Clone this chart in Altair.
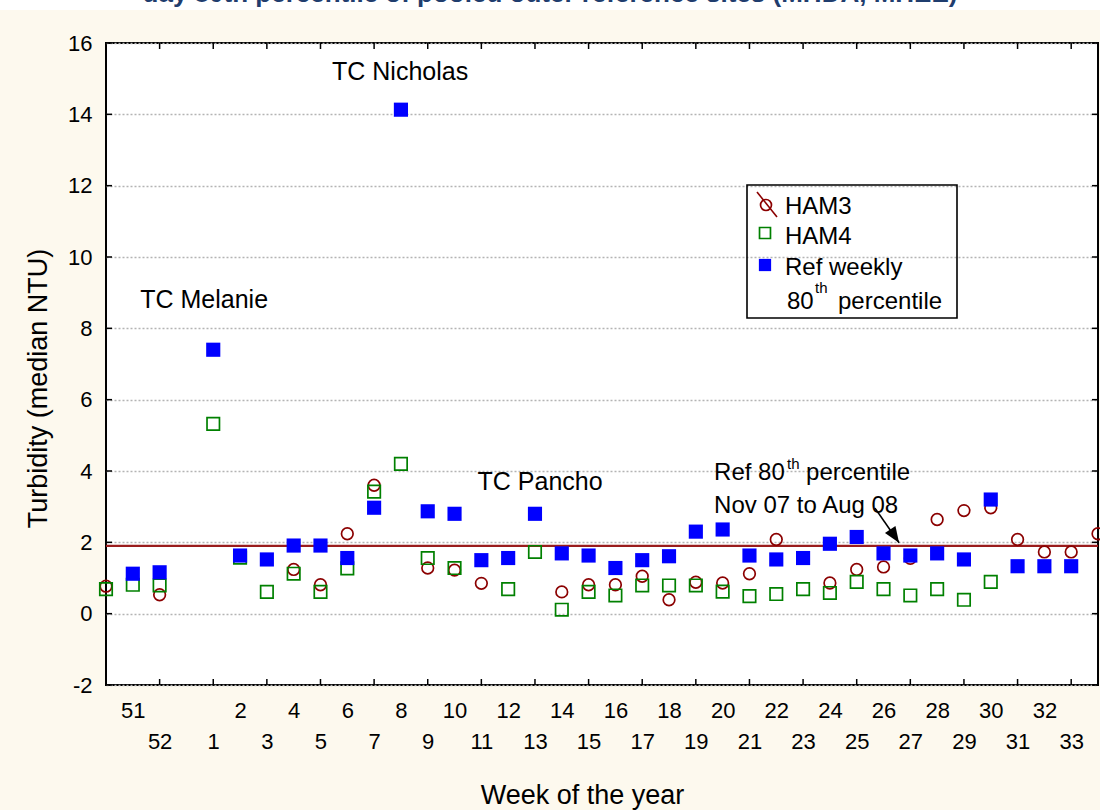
import json
import altair as alt
import pandas as pd

FONT = "Liberation Sans"
W, H = 992, 642

# Week slots along the x axis: end of 2007, an empty slot at the year change, then 2008
weeks = ["50", "51", "52", "",
         "1", "2", "3", "4", "5", "6", "7", "8", "9", "10",
         "11", "12", "13", "14", "15", "16", "17", "18", "19", "20",
         "21", "22", "23", "24", "25", "26", "27", "28", "29", "30",
         "31", "32", "33", "34"]

# Weekly median turbidity (NTU); None = no sample that week
ham3 = [0.77, None, 0.53, None,
        None, None, None, 1.24, 0.81, 2.24, 3.60, None, 1.28, 1.22,
        0.85, None, None, 0.61, 0.81, 0.81, 1.05, 0.39, 0.88, 0.86,
        1.12, 2.08, None, 0.86, 1.24, 1.31, 1.55, 2.64, 2.89, 2.97,
        2.08, 1.73, 1.73, 2.24]

ham4 = [0.69, 0.81, 0.79, None,
        5.32, 1.57, 0.61, 1.12, 0.61, 1.27, 3.42, 4.20, 1.56, 1.28,
        None, 0.69, 1.73, 0.11, 0.61, 0.51, 0.79, 0.79, 0.79, 0.62,
        0.49, 0.55, 0.69, 0.58, 0.89, 0.69, 0.51, 0.69, 0.39, 0.89,
        None, None, None, None]

ref80 = [None, 1.12, 1.16, None,
         7.40, 1.63, 1.52, 1.91, 1.91, 1.56, 2.97, 14.13, 2.87, 2.80,
         1.50, 1.56, 2.80, 1.69, 1.63, 1.28, 1.50, 1.61, 2.30, 2.36,
         1.63, 1.52, 1.56, 1.96, 2.15, 1.69, 1.63, 1.69, 1.52, 3.20,
         1.33, 1.33, 1.33, None]

# Pooled reference 80th percentile, Nov 07 to Aug 08
ref_threshold = 1.9

y_ticks = [-2, 0, 2, 4, 6, 8, 10, 12, 14, 16]

title_text = "day 80th percentile of pooled outer reference sites (MHDA, MHEE)"


def long_frame(values):
    return pd.DataFrame([{"idx": i, "value": v} for i, v in enumerate(values) if v is not None])


label_idx = [i for i, w in enumerate(weeks) if w and 0 < i < len(weeks) - 1]
tick_idx = [i for i in label_idx if i % 2 == 0]

xs = alt.Scale(domain=[0, len(weeks) - 1], nice=False, zero=False)
ys = alt.Scale(domain=[-2, 16], nice=False, zero=False)

xa = alt.Axis(
    values=label_idx,
    labelExpr=json.dumps(weeks) + "[datum.value]",
    labelPadding={"condition": {"test": "datum.value % 2 == 1", "value": 15}, "value": 46},
    labelFont=FONT, labelFontSize=22, labelColor="black",
    labelOverlap=False, labelFlush=False,
    ticks=False, domain=False, grid=False,
    title="Week of the year", titleFont=FONT, titleFontSize=27,
    titleFontWeight="normal", titleColor="black",
    titleX=476, titleY=110, titleBaseline="middle", titleAlign="center",
)
ya = alt.Axis(
    values=y_ticks,
    labelExpr="replace(datum.label, '\u2212', '-')",
    labelFont=FONT, labelFontSize=22, labelColor="black", labelPadding=14,
    ticks=False, domain=False,
    grid=True, gridDash=[2, 2], gridColor="#b4b4b4", gridWidth=1.4,
    title="Turbidity (median NTU)", titleFont=FONT, titleFontSize=27,
    titleFontWeight="normal", titleColor="black",
    titleX=-68, titleY=345, titleBaseline="middle", titleAlign="center",
)


def X(field="idx"):
    return alt.X(f"{field}:Q", scale=xs, axis=xa)


def Y(field="value"):
    return alt.Y(f"{field}:Q", scale=ys, axis=ya)


one = pd.DataFrame({"k": [0]})

# white strip above the figure panel, with the last line of the caption on it
top_strip = alt.Chart(one).mark_rect(color="white").encode(
    x=alt.value(-106), x2=alt.value(W + 2), y=alt.value(-43), y2=alt.value(-33)
)
caption = alt.Chart(one).mark_text(
    font=FONT, fontSize=26, fontWeight="bold", color="#1f3d6e",
    align="center", baseline="bottom",
).encode(x=alt.value(444), y=alt.value(-36), text=alt.value(title_text))

thr_line = alt.Chart(pd.DataFrame({"value": [ref_threshold]})).mark_rule(
    color="#9a1c1c", strokeWidth=2.2
).encode(y=Y())

pts_ham3 = alt.Chart(long_frame(ham3)).mark_point(
    shape="circle", filled=False, color="#8b0000", size=135, strokeWidth=1.7, opacity=1
).encode(x=X(), y=Y())

pts_ham4 = alt.Chart(long_frame(ham4)).mark_point(
    shape="square", filled=False, color="#008000", size=155, strokeWidth=1.7, opacity=1
).encode(x=X(), y=Y())

pts_ref = alt.Chart(long_frame(ref80)).mark_point(
    shape="square", filled=True, color="#0000ff", size=200, opacity=1
).encode(x=X(), y=Y())

# cyclone annotations
cyclones = pd.DataFrame({
    "label": ["TC Melanie", "TC Nicholas", "TC Pancho"],
    "idx": [3.66, 10.97, 16.19],
    "value": [8.79, 15.19, 3.69],
})
tc_text = alt.Chart(cyclones).mark_text(
    font=FONT, fontSize=25, align="center", baseline="middle", color="black"
).encode(x=X(), y=Y(), text="label:N")

# threshold note with arrow
note = pd.DataFrame({"idx": [22.68, 22.68], "value": [3.94, 3.01],
                     "label": ["Ref 80", "Nov 07 to Aug 08"]})
note_text = alt.Chart(note).mark_text(
    font=FONT, fontSize=24, align="left", baseline="middle", color="black"
).encode(x=X(), y=Y(), text="label:N")
note_first = pd.DataFrame({"idx": [22.68], "value": [3.94]})
note_sup = alt.Chart(note_first).mark_text(
    font=FONT, fontSize=15, align="left", baseline="middle", dx=73, dy=-9, color="black"
).encode(x=X(), y=Y(), text=alt.value("th"))
note_rest = alt.Chart(note_first).mark_text(
    font=FONT, fontSize=24, align="left", baseline="middle", dx=92, color="black"
).encode(x=X(), y=Y(), text=alt.value("percentile"))

arrow = pd.DataFrame({"idx": [28.68], "value": [2.96], "idx2": [29.58], "value2": [1.99]})
arrow_line = alt.Chart(arrow).mark_rule(color="black", strokeWidth=1.6).encode(
    x=X(), y=Y(), x2="idx2:Q", y2="value2:Q"
)
arrow_head = alt.Chart(arrow).mark_point(
    shape="M0,0 L-0.4,1 L0.4,1 Z", filled=True, color="black", size=1000, angle=146, opacity=1
).encode(x=X("idx2"), y=Y("value2"))

# inward tick marks on the frame
xt = pd.DataFrame({"idx": tick_idx})
xticks_bottom = alt.Chart(xt).mark_rule(color="black", strokeWidth=1.5).encode(
    x=X(), y=alt.value(H), y2=alt.value(H - 6)
)
xticks_top = alt.Chart(xt).mark_rule(color="black", strokeWidth=1.5).encode(
    x=X(), y=alt.value(0), y2=alt.value(6)
)
yt = pd.DataFrame({"value": y_ticks})
yticks_left = alt.Chart(yt).mark_rule(color="black", strokeWidth=1.5).encode(
    y=Y(), x=alt.value(0), x2=alt.value(6)
)
yticks_right = alt.Chart(yt).mark_rule(color="black", strokeWidth=1.5).encode(
    y=Y(), x=alt.value(W), x2=alt.value(W - 6)
)

# legend box
leg_box = alt.Chart(one).mark_rect(fillOpacity=0, stroke="black", strokeWidth=1.6).encode(
    x=alt.value(641), x2=alt.value(851), y=alt.value(142), y2=alt.value(275)
)
leg_ham3_line = alt.Chart(one).mark_rule(color="#8b0000", strokeWidth=1.6).encode(
    x=alt.value(651), y=alt.value(149), x2=alt.value(671), y2=alt.value(174)
)
leg_ham3 = alt.Chart(one).mark_point(
    shape="circle", filled=False, color="#8b0000", size=120, strokeWidth=1.7, opacity=1
).encode(x=alt.value(660), y=alt.value(162))
leg_ham4 = alt.Chart(one).mark_point(
    shape="square", filled=False, color="#008000", size=120, strokeWidth=1.7, opacity=1
).encode(x=alt.value(659), y=alt.value(190))
leg_ref = alt.Chart(one).mark_point(
    shape="square", filled=True, color="#0000ff", size=150, opacity=1
).encode(x=alt.value(659), y=alt.value(222))


def leg_text(label, px, py, size=24):
    return alt.Chart(one).mark_text(
        font=FONT, fontSize=size, align="left", baseline="middle", color="black"
    ).encode(x=alt.value(px), y=alt.value(py), text=alt.value(label))


legend = [
    leg_box, leg_ham3_line, leg_ham3, leg_ham4, leg_ref,
    leg_text("HAM3", 679, 164),
    leg_text("HAM4", 679, 194),
    leg_text("Ref weekly", 679, 225),
    leg_text("80", 681, 259),
    leg_text("th", 709, 245, 15),
    leg_text("percentile", 732, 259),
]

chart = alt.layer(
    top_strip, caption, thr_line, pts_ham3, pts_ham4, pts_ref,
    tc_text, note_text, note_sup, note_rest, arrow_line, arrow_head,
    xticks_bottom, xticks_top, yticks_left, yticks_right,
    *legend,
).properties(
    width=W, height=H,
    autosize="none",
    padding={"left": 106, "top": 43, "right": 2, "bottom": 125},
).configure(
    background="#fdf9ee",
).configure_view(
    fill="white", stroke="black", strokeWidth=2,
)

chart.save("out.html", embed_options={"renderer": "svg", "actions": False})
